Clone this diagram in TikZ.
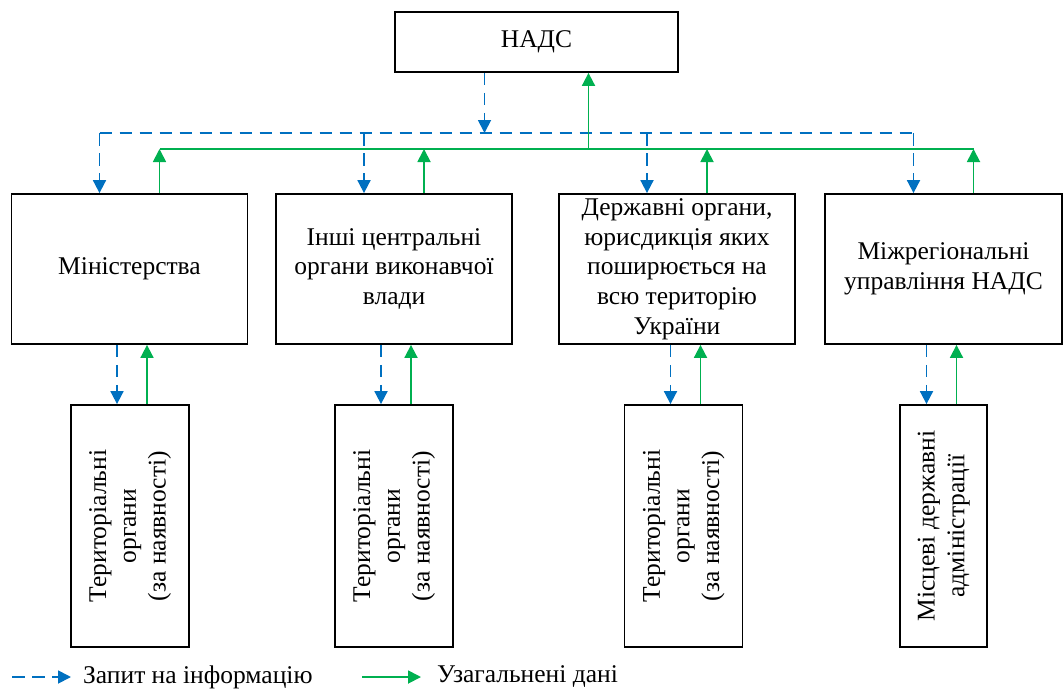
\documentclass[tikz,border=0pt]{standalone}
\usepackage{fontspec}
\setmainfont{Liberation Serif}
\newfontfamily\diagfont{Liberation Serif}
\usepackage{tikz}
\usetikzlibrary{arrows.meta, positioning}
\definecolor{reqblue}{HTML}{0070C0}
\definecolor{datagreen}{HTML}{00B050}

\begin{document}
\begin{tikzpicture}[x=1pt, y=-1pt,
      font=\diagfont\fontsize{25.5}{29.7}\selectfont,
      box/.style={draw, line width=1.8pt, inner sep=0pt, align=center},
      upbox/.style={box, minimum width=236pt, minimum height=150pt},
      lowbox/.style={box, minimum width=118pt, minimum height=242pt},
      tip/.style={-{Triangle[width=13pt,length=13pt]}},
      reqline/.style={draw=reqblue, line width=1.8pt, dash pattern=on 12.5pt off 7.5pt},
      dataline/.style={draw=datagreen, line width=1.8pt},
      req/.style={reqline, tip},
      data/.style={dataline, tip}]
      \useasboundingbox (0,0) rectangle (1064,688);
      \node[box, minimum width=283pt, minimum height=60pt] (nads) at (536.5,42) {НАДС};
      \node[upbox] (m1) at (129.5,269) {Міністерства};
      \node[upbox] (m2) at (394,269) {Інші центральні\\органи виконавчої\\влади};
      \node[upbox] (m3) at (677,269) {Державні органи,\\юрисдикція яких\\поширюється на\\всю територію\\України};
      \node[upbox, minimum width=237pt] (m4) at (943.5,269) {Міжрегіональні\\управління НАДС};
      \node[lowbox] (t1) at (130,526) {\rotatebox{90}{\begin{tabular}{@{}c@{}}Територіальні\\органи\\(за наявності)\end{tabular}}};
      \node[lowbox] (t2) at (394,526) {\rotatebox{90}{\begin{tabular}{@{}c@{}}Територіальні\\органи\\(за наявності)\end{tabular}}};
      \node[lowbox] (t3) at (683.5,526) {\rotatebox{90}{\begin{tabular}{@{}c@{}}Територіальні\\органи\\(за наявності)\end{tabular}}};
      \node[lowbox, minimum width=87pt] (t4) at (943.5,526) {\rotatebox{90}{\begin{tabular}{@{}c@{}}Місцеві державні\\адміністрації\end{tabular}}};
      \coordinate (reqbus) at (0,133);
      \coordinate (databus) at (0,149);
      \draw[req] ([xshift=-52pt]nads.south) -- ([xshift=-52pt]nads.south |- reqbus);
      \draw[reqline] ([xshift=-30pt]m1.north |- reqbus) -- ([xshift=-30pt]m4.north |- reqbus);
      \draw[dataline] ([xshift=30pt]m1.north |- databus) -- ([xshift=30pt]m4.north |- databus);
      \draw[data] ([xshift=52pt]nads.south |- databus) -- ([xshift=52pt]nads.south);
      \foreach \n in {m1,m2,m3,m4}{
        \draw[req] ([xshift=-30pt]\n.north |- reqbus) -- ([xshift=-30pt]\n.north);
        \draw[data] ([xshift=30pt]\n.north) -- ([xshift=30pt]\n.north |- databus);
      }
      \foreach \n/\a/\b in {1/-13/17, 2/-13/17, 3/-13/17, 4/-17/13}{
        \draw[req] ([xshift=\a pt]t\n.north |- m\n.south) -- ([xshift=\a pt]t\n.north);
        \draw[data] ([xshift=\b pt]t\n.north) -- ([xshift=\b pt]t\n.north |- m\n.south);
      }
      \coordinate (reqkey) at (12,677);
      \coordinate (datakey) at (362,677);
      \node[anchor=west, inner sep=0pt] (reqtext) at (83,677) {Запит на інформацію};
      \node[anchor=west, inner sep=0pt] (datatext) at (437,677) {Узагальнені дані};
      \draw[req] (reqkey) -- ([xshift=-12pt]reqtext.west);
      \draw[data] (datakey) -- ([xshift=-16pt]datatext.west);
    \end{tikzpicture}
\end{document}
